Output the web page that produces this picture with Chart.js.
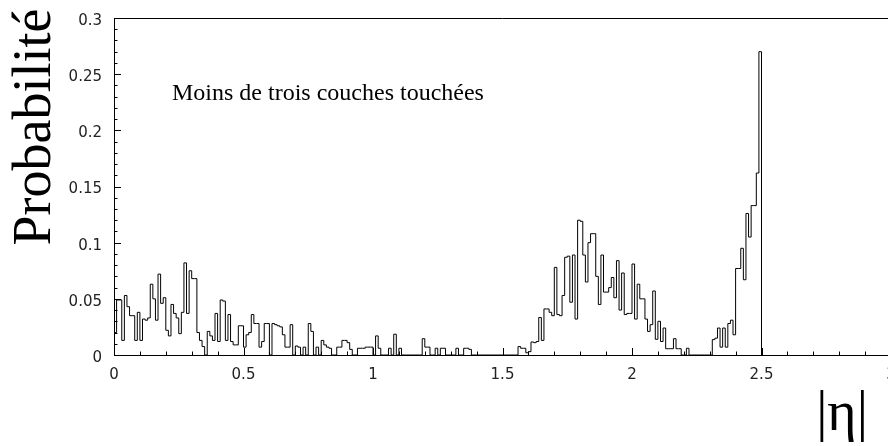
<!DOCTYPE html>
<html>
<head>
<meta charset="utf-8">
<script src="https://cdn.jsdelivr.net/npm/chart.js@4/dist/chart.umd.min.js"></script>
<style>
  html, body { margin: 0; padding: 0; background: #fff; overflow: hidden; }
  #wrap { width: 888px; height: 446px; position: relative; overflow: hidden; }
  #c { position: absolute; left: 0; top: 0; }
</style>
</head>
<body>
<div id="wrap"><canvas id="c" width="891" height="446"></canvas></div>
<script>
// Histogram of |eta|, bins of width 0.01 starting at 0
const binWidth = 0.01;
const probabilities = [
  0.020, 0.049, 0.049, 0.013, 0.053, 0.043, 0.035, 0.035, 0.013, 0.038,
  0.013, 0.032, 0.031, 0.033, 0.063, 0.050, 0.031, 0.072, 0.046, 0.051,
  0.022, 0.017, 0.045, 0.037, 0.033, 0.019, 0.038, 0.082, 0.037, 0.075,
  0.068, 0.068, 0.020, 0.013, 0.0075, 0, 0.021, 0.017, 0.013, 0.037,
  0.012, 0.049, 0.048, 0.013, 0.036, 0.012, 0.009, 0.009, 0.026, 0.026,
  0.007, 0.018, 0.020, 0.036, 0.028, 0.028, 0.007, 0.012, 0.028, 0.028,
  0, 0.028, 0.027, 0.026, 0.025, 0.018, 0.007, 0.007, 0.027, 0,
  0.008, 0.007, 0, 0.007, 0, 0.028, 0.021, 0, 0.007, 0,
  0.013, 0.009, 0.007, 0.006, 0, 0, 0.007, 0.007, 0.013, 0.013,
  0.011, 0.005, 0, 0, 0.006, 0.006, 0.006, 0.007, 0.007, 0.007,
  0, 0.017, 0.006, 0, 0, 0, 0.006, 0, 0.0185, 0,
  0.006, 0, 0, 0, 0, 0, 0, 0, 0, 0.0145,
  0.007, 0.007, 0, 0, 0.006, 0, 0.006, 0.006, 0, 0,
  0, 0, 0.006, 0, 0, 0.006, 0.006, 0.005, 0, 0,
  0, 0, 0, 0, 0, 0, 0, 0, 0, 0,
  0, 0, 0, 0, 0, 0, 0.0075, 0.006, 0.006, 0.002,
  0.003, 0.0116, 0.011, 0.012, 0.0334, 0.013, 0.041, 0.041, 0.038, 0.035,
  0.078, 0.036, 0.035, 0.053, 0.087, 0.088, 0.047, 0.089, 0.032, 0.120,
  0.119, 0.089, 0.065, 0.100, 0.108, 0.108, 0.070, 0.045, 0.089, 0.056,
  0.056, 0.060, 0.069, 0.051, 0.084, 0.040, 0.073, 0.036, 0.037, 0.037,
  0.081, 0.032, 0.063, 0.050, 0.050, 0.032, 0.021, 0.027, 0.057, 0.014,
  0.030, 0.012, 0.024, 0.0056, 0.0056, 0.0056, 0.0145, 0.0056, 0.0056, 0,
  0, 0.006, 0, 0, 0, 0, 0, 0, 0, 0,
  0, 0.0137, 0.015, 0.024, 0.007, 0.024, 0.007, 0.028, 0.031, 0.018,
  0.077, 0.077, 0.095, 0.067, 0.126, 0.105, 0.133, 0.133, 0.162, 0.270
];
const xTickLabels = ['0', '0.5', '1', '1.5', '2', '2.5', '3'];
const yTickLabels = ['0', '0.05', '0.1', '0.15', '0.2', '0.25', '0.3'];
const yTitle = 'Probabilité';
const xTitle = '|η|';
const annotation = 'Moins de trois couches touchées';

// bin lower edges, plus the closing edge of the last bin
const binEdges = probabilities.map((_, i) => +(i * binWidth).toFixed(2));
const lastEdge = +(probabilities.length * binWidth).toFixed(2);
const points = binEdges.map((x, i) => ({ x: x, y: probabilities[i] }));
points.push({ x: lastEdge, y: 0 });

const textPlugin = {
  id: 'rootDecor',
  afterDraw(chart) {
    const ctx = chart.ctx;
    const xs = chart.scales.x, ys = chart.scales.y;
    const area = chart.chartArea;
    ctx.save();
    ctx.strokeStyle = '#000';
    ctx.lineWidth = 1;
    // top frame line
    ctx.beginPath();
    ctx.moveTo(area.left, Math.round(area.top) + 0.5);
    ctx.lineTo(area.right, Math.round(area.top) + 0.5);
    ctx.stroke();
    // inward tick marks on x axis (every 0.1, long every 0.5)
    const yb = Math.round(area.bottom);
    ctx.beginPath();
    for (let i = 0; i <= 30; i++) {
      const px = Math.round(xs.getPixelForValue(i / 10)) + 0.5;
      const len = (i % 5 === 0) ? 7 : 3.5;
      ctx.moveTo(px, yb);
      ctx.lineTo(px, yb - len);
    }
    // inward tick marks on y axis (every 0.01, long every 0.05)
    const xl = Math.round(area.left);
    for (let i = 0; i <= 30; i++) {
      const py = Math.round(ys.getPixelForValue(i / 100)) + 0.5;
      const len = (i % 5 === 0) ? 7 : 3.5;
      ctx.moveTo(xl, py);
      ctx.lineTo(xl + len, py);
    }
    ctx.stroke();

    ctx.fillStyle = '#000';
    // annotation
    ctx.font = '24px "Liberation Serif", "Times New Roman", serif';
    ctx.textAlign = 'left';
    ctx.textBaseline = 'alphabetic';
    ctx.fillText(annotation, 172, 100);
    // x title
    ctx.font = '56px "Liberation Serif", "Times New Roman", serif';
    ctx.textAlign = 'center';
    ctx.fillText(xTitle, 842, 430);
    // y title
    ctx.translate(50, 127);
    ctx.rotate(-Math.PI / 2);
    ctx.font = '54px "Liberation Serif", "Times New Roman", serif';
    ctx.textAlign = 'center';
    ctx.fillText(yTitle, 0, 0);
    ctx.restore();
  }
};

function noOverhang(scale) {
  scale.paddingLeft = 0; scale.paddingRight = 0;
  scale.paddingTop = 0; scale.paddingBottom = 0;
}

new Chart(document.getElementById('c'), {
  type: 'line',
  data: {
    datasets: [{
      data: points,
      stepped: 'before',
      borderColor: '#000',
      borderWidth: 1,
      pointRadius: 0,
      fill: false,
      tension: 0
    }]
  },
  options: {
    responsive: false,
    animation: false,
    devicePixelRatio: 1,
    layout: { autoPadding: false, padding: { top: 18, right: 0, left: 0, bottom: 0 } },
    plugins: { legend: { display: false }, tooltip: { enabled: false }, title: { display: false } },
    scales: {
      x: {
        type: 'linear',
        min: 0, max: 3,
        afterFit(scale) { scale.height = 91; noOverhang(scale); },
        afterBuildTicks(scale) { scale.ticks = xTickLabels.map(v => ({ value: parseFloat(v) })); },
        grid: { display: false, drawTicks: false },
        border: { display: true, color: '#000', width: 1 },
        ticks: {
          padding: 11,
          color: '#222',
          font: { family: '"DejaVu Sans", sans-serif', size: 15 },
          maxRotation: 0,
          autoSkip: false,
          callback: (v, i) => xTickLabels[i]
        }
      },
      y: {
        type: 'linear',
        min: 0, max: 0.3,
        afterFit(scale) { scale.width = 114; noOverhang(scale); },
        afterBuildTicks(scale) { scale.ticks = yTickLabels.map(v => ({ value: parseFloat(v) })); },
        grid: { display: false, drawTicks: false },
        border: { display: true, color: '#000', width: 1 },
        ticks: {
          padding: 12,
          labelOffset: 3,
          color: '#222',
          font: { family: '"DejaVu Sans", sans-serif', size: 15 },
          autoSkip: false,
          callback: (v, i) => yTickLabels[i]
        }
      }
    }
  },
  plugins: [textPlugin]
});
</script>
</body>
</html>
